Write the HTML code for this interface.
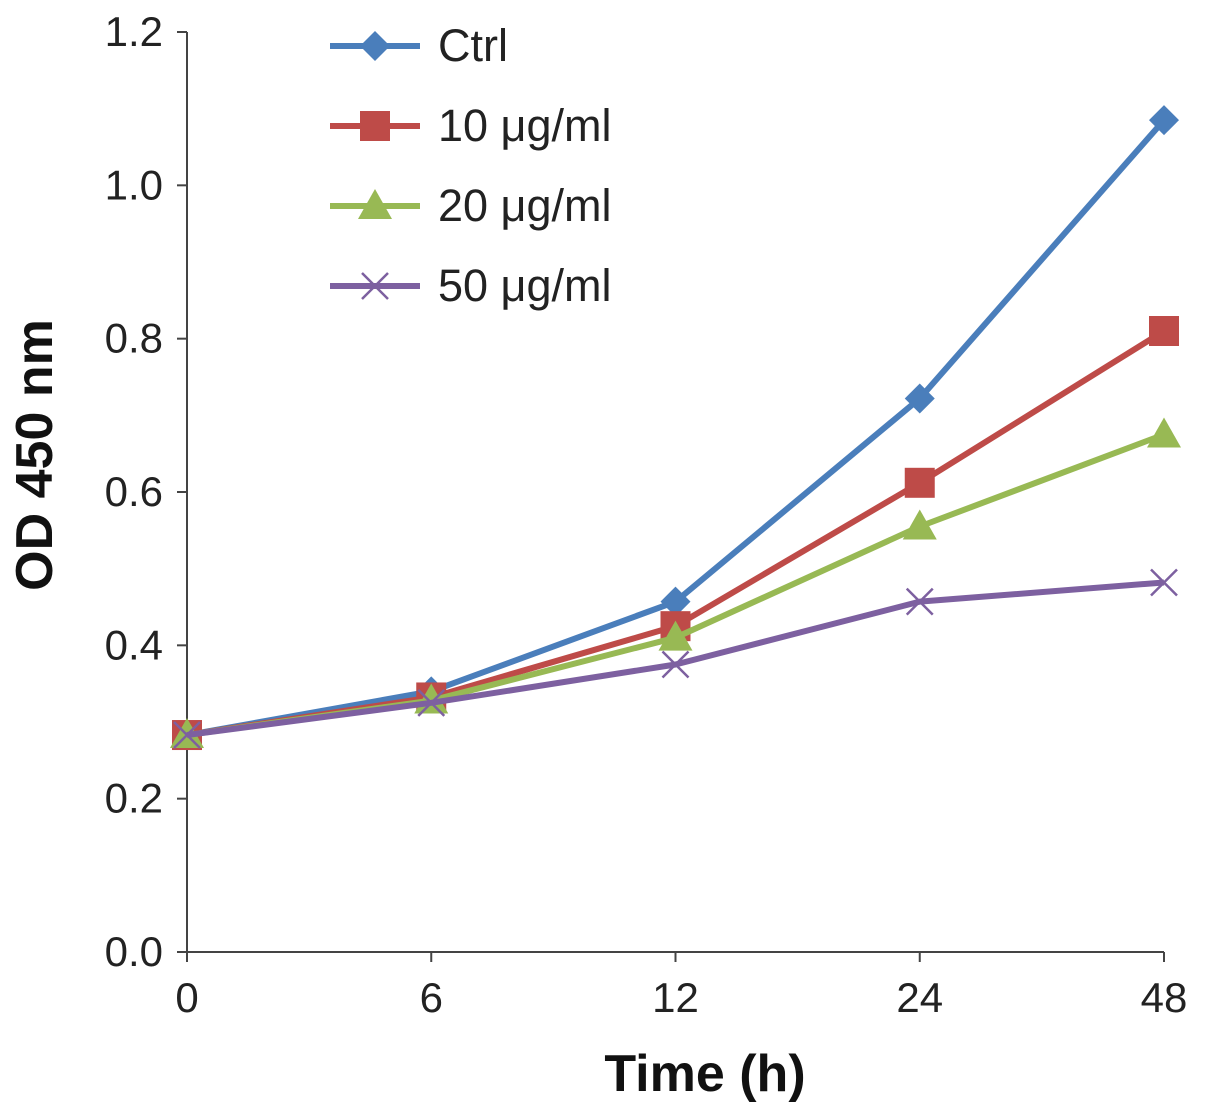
<!DOCTYPE html>
<html><head><meta charset="utf-8"><style>
html,body{margin:0;padding:0;background:#fff;}
svg{display:block;font-family:"Liberation Sans",Arial,sans-serif;}
</style></head><body>
<svg id="chart" width="1205" height="1115" viewBox="0 0 1205 1115" xmlns="http://www.w3.org/2000/svg"></svg>
<script>
const categories = ["0","6","12","24","48"];
const ctrlValues = [0.283, 0.34, 0.457, 0.722, 1.085];
const d10Values = [0.283, 0.332, 0.425, 0.612, 0.81];
const d20Values = [0.283, 0.328, 0.41, 0.555, 0.675];
const d50Values = [0.283, 0.325, 0.375, 0.457, 0.482];
const yTicks = [0, 0.2, 0.4, 0.6, 0.8, 1.0, 1.2];
const seriesNames = ["Ctrl", "10 μg/ml", "20 μg/ml", "50 μg/ml"];

const NS = "http://www.w3.org/2000/svg";
const svg = document.getElementById("chart");
const x0 = 187, x1 = 1164, yBase = 952, yTop = 32;
function xScale(i){ return x0 + i*(x1-x0)/(categories.length-1); }
function yScale(v){ return yBase - v/1.2*(yBase-yTop); }
function mk(tag, attrs, parent){
  const e = document.createElementNS(NS, tag);
  for (const k in attrs) e.setAttribute(k, attrs[k]);
  (parent||svg).appendChild(e);
  return e;
}

const yAxis = mk("line",{x1:x0,y1:yTop,x2:x0,y2:yBase,stroke:"#444","stroke-width":2});


const xAxis = mk("line",{x1:x0,y1:yBase,x2:x1,y2:yBase,stroke:"#444","stroke-width":2});



yTicks.forEach(t=>{
  const y = yScale(t);
  const tk = mk("line",{x1:x0-10,y1:y,x2:x0,y2:y,stroke:"#444","stroke-width":2});
  
  
  const lb = mk("text",{x:163,y:y+14,"text-anchor":"end","font-size":42,fill:"#222"});
  lb.textContent = t.toFixed(1);
  
  
});
categories.forEach((c,i)=>{
  const x = xScale(i);
  const tk = mk("line",{x1:x,y1:yBase,x2:x,y2:yBase+10,stroke:"#444","stroke-width":2});
  
  
  const lb = mk("text",{x:x,y:1012,"text-anchor":"middle","font-size":42,fill:"#222"});
  lb.textContent = c;
  
  
});

const xt = mk("text",{x:705,y:1091,"text-anchor":"middle","font-size":52,"font-weight":"bold",fill:"#111"});
xt.textContent = "Time (h)";


const yt = mk("text",{x:0,y:0,"text-anchor":"middle","font-size":52,"font-weight":"bold",fill:"#111",transform:"translate(52,455) rotate(-90)"});
yt.textContent = "OD 450 nm";



const colors = ["#4a7ebb","#be4b48","#98b954","#7d60a0"];
const markers = ["diamond","square","triangle","x"];
function marker(type, x, y, color, g){
  let e;
  if (type==="diamond") e = mk("polygon",{points:`${x},${y-15} ${x+15},${y} ${x},${y+15} ${x-15},${y}`,fill:color},g);
  else if (type==="square") e = mk("rect",{x:x-15,y:y-15,width:30,height:30,fill:color},g);
  else if (type==="triangle") e = mk("polygon",{points:`${x},${y-17} ${x+17},${y+13} ${x-17},${y+13}`,fill:color},g);
  else e = mk("path",{d:`M${x-13},${y-13}L${x+13},${y+13}M${x-13},${y+13}L${x+13},${y-13}`,stroke:color,"stroke-width":2.5,fill:"none"},g);
  return e;
}
const allSeries = [ctrlValues, d10Values, d20Values, d50Values];
allSeries.forEach((vals,si)=>{
  const g = mk("g",{});
  
  
  const pts = vals.map((v,i)=>xScale(i)+","+yScale(v)).join(" ");
  const ln = mk("polyline",{points:pts,fill:"none",stroke:colors[si],"stroke-width":6,"stroke-linejoin":"round"},g);
  
  
  vals.forEach((v,i)=>{
    const m = marker(markers[si], xScale(i), yScale(v), colors[si], g);
    
    
  });
  const ly = 46 + si*80;
  const lg = mk("g",{});
  
  
  mk("line",{x1:330,y1:ly,x2:420,y2:ly,stroke:colors[si],"stroke-width":6},lg);
  marker(markers[si], 375, ly, colors[si], lg);
  const lt = mk("text",{x:438,y:ly+15,"font-size":45,fill:"#222"},lg);
  lt.textContent = seriesNames[si];
});
</script>
</body></html>
